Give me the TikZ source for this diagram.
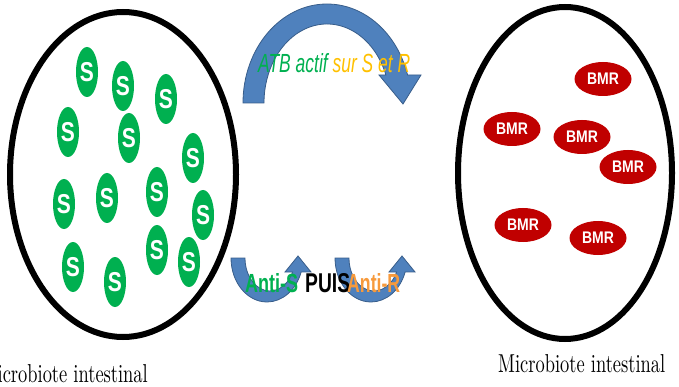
\documentclass[tikz,border=0pt]{standalone}
\usepackage{fontspec}
\usepackage{graphicx}
\newfontfamily\arialfont{Liberation Sans}
\usetikzlibrary{shapes.geometric}
\definecolor{sgreen}{HTML}{00B050}
\definecolor{bmrred}{HTML}{C00000}
\definecolor{arrowblue}{HTML}{4F81BD}
\definecolor{arrowedge}{HTML}{385D8A}
\definecolor{ygold}{HTML}{FFC000}
\definecolor{antiorange}{HTML}{F79A3C}
\newcommand\Sglyph{\scalebox{1}[1.3]{\fontsize{21}{21}\selectfont S}}
\newcommand\BMRglyph{\scalebox{1}[1.2]{\fontsize{14}{14}\selectfont BMR}}
\begin{document}
\begin{tikzpicture}[x=1pt,y=-1pt,
  sbug/.style={ellipse, fill=sgreen, minimum width=22pt, minimum height=50pt, inner sep=0pt, text=white, font=\arialfont\bfseries},
  bmr/.style={ellipse, fill=bmrred, minimum width=57pt, minimum height=34pt, inner sep=0pt, text=white, font=\arialfont\bfseries},
  gut/.style={line width=6pt, draw=black},
  bluearrow/.style={fill=arrowblue, draw=arrowedge, line width=0.8pt},
  lbl/.style={inner sep=0pt}]
\useasboundingbox (0,0) rectangle (679,387);

% gut ellipses
\draw[gut] (123,174.5) ellipse [x radius=113, y radius=162.5];
\draw[gut] (565,173) ellipse [x radius=107, y radius=166];

% S bacteria
\node[sbug] (s1) at (87,72) {\Sglyph};
\node[sbug] (s2) at (123,86) {\Sglyph};
\node[sbug] (s3) at (166,99) {\Sglyph};
\node[sbug] (s4) at (68,132) {\Sglyph};
\node[sbug] (s5) at (129,138) {\Sglyph};
\node[sbug] (s6) at (193,158) {\Sglyph};
\node[sbug] (s7) at (64,204) {\Sglyph};
\node[sbug] (s8) at (107,198) {\Sglyph};
\node[sbug] (s9) at (157,192) {\Sglyph};
\node[sbug] (s10) at (203,215) {\Sglyph};
\node[sbug] (s11) at (73,267) {\Sglyph};
\node[sbug] (s12) at (115,282) {\Sglyph};
\node[sbug] (s13) at (157,250) {\Sglyph};
\node[sbug] (s14) at (189,262) {\Sglyph};

% BMR bacteria
\node[bmr] (b1) at (603,79) {\BMRglyph};
\node[bmr] (b2) at (512,129) {\BMRglyph};
\node[bmr] (b3) at (582,137) {\BMRglyph};
\node[bmr] (b4) at (628,167) {\BMRglyph};
\node[bmr] (b5) at (523,225) {\BMRglyph};
\node[bmr] (b6) at (598,238) {\BMRglyph};

% top curved arrow
\filldraw[bluearrow] (243,103) arc[start angle=180, end angle=343.57, x radius=84, y radius=99]
  -- (421,75) -- (403,104) -- (379,75) -- (385.9,75)
  arc[start angle=339.24, end angle=180, x radius=63, y radius=79] -- cycle;

% bottom curved arrows
\filldraw[bluearrow] (231,258) arc[start angle=180, end angle=18.5, x radius=36, y radius=44]
  -- (311,272) -- (298,256) -- (285,272) -- (292.6,272)
  arc[start angle=25.1, end angle=180, x radius=25, y radius=33] -- cycle;
\begin{scope}[xshift=104pt]
\filldraw[bluearrow] (231,258) arc[start angle=180, end angle=18.5, x radius=36, y radius=44]
  -- (311,272) -- (298,256) -- (285,272) -- (292.6,272)
  arc[start angle=25.1, end angle=180, x radius=25, y radius=33] -- cycle;
\end{scope}

% texts
\node[lbl, anchor=base west] (atb) at (258,73)
  {\resizebox{152pt}{19pt}{\arialfont\itshape\color{sgreen}ATB actif \color{ygold}sur S et R}};
\node[lbl, anchor=base west] (antis) at (245,292)
  {\resizebox{53pt}{19pt}{\arialfont\bfseries\color{sgreen}Anti-S}};
\node[lbl, anchor=base west] (puis) at (305,292)
  {\resizebox{45pt}{19pt}{\arialfont\bfseries\color{black}PUIS}};
\node[lbl, anchor=base west] (antir) at (347,292)
  {\resizebox{53pt}{19pt}{\arialfont\bfseries\color{antiorange}Anti-R}};

\node[lbl, anchor=base east] (lab1) at (148,382) {\resizebox{167pt}{18pt}{Microbiote intestinal}};
\node[lbl, anchor=base west] (lab2) at (498,372) {\resizebox{167pt}{18pt}{Microbiote intestinal}};
\end{tikzpicture}
\end{document}
